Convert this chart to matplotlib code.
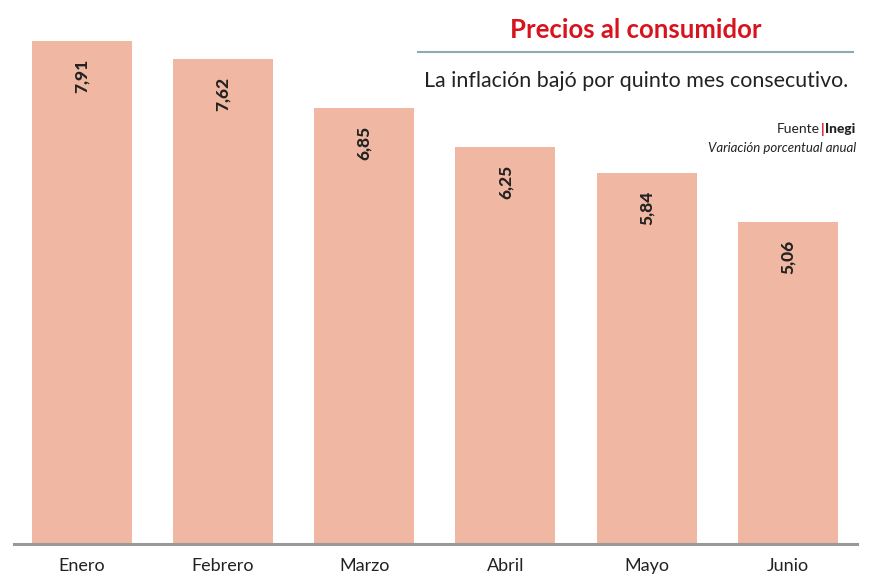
import matplotlib
matplotlib.use("Agg")
import matplotlib.pyplot as plt

months = ["Enero", "Febrero", "Marzo", "Abril", "Mayo", "Junio"]
values = [7.91, 7.62, 6.85, 6.25, 5.84, 5.06]
value_labels = ["7,91", "7,62", "6,85", "6,25", "5,84", "5,06"]

plt.rcParams['font.family'] = ['Lato', 'DejaVu Sans']

W, H = 874, 574
fig = plt.figure(figsize=(W/100, H/100), dpi=100)
ax = fig.add_axes([14/W, 30/H, 843/W, 544/H])
x = list(range(len(months)))
ax.bar(x, values, width=0.708, color="#f0b7a2", zorder=2)
ax.set_xlim(-0.48, 5.49)
ax.set_ylim(0, 544/63.6)
for s in ["top", "right", "left"]:
    ax.spines[s].set_visible(False)
ax.spines["bottom"].set_color("#999999")
ax.spines["bottom"].set_linewidth(2.2)
ax.spines["bottom"].set_zorder(3)
ax.set_yticks([])
ax.set_xticks(x)
ax.set_xticklabels(months, fontsize=13, color="#222222")
ax.tick_params(axis="x", length=0, pad=10)
for xi, v, lab in zip(x, values, value_labels):
    ax.annotate(lab, (xi, v), xytext=(0, -35), textcoords="offset pixels",
                rotation=90, ha="center", va="center", fontsize=12.5,
                fontweight="black", color="#222222")

fig.text(636/W, 1-30/H, "Precios al consumidor", color="#d7141e", fontsize=18.5,
         fontweight="bold", ha="center", va="center")
fig.add_artist(plt.Line2D([418/W, 853/W], [1-52/H, 1-52/H], color="#8fa8b5", lw=1.5))
fig.text(848/W, 1-81/H, "La inflación bajó por quinto mes consecutivo.", color="#222222",
         fontsize=15.4, ha="right", va="center")
fig.text(820/W, 1-129/H, "Fuente", color="#222222", fontsize=10, ha="right", va="center")
fig.text(822.5/W, 1-129/H, "|", color="#d7141e", fontsize=10, fontweight="bold", ha="center", va="center")
fig.text(825/W, 1-129/H, "Inegi", color="#222222", fontsize=10, fontweight="black", ha="left", va="center")
fig.text(856/W, 1-148/H, "Variación porcentual anual", color="#222222", fontsize=9.5,
         style="italic", ha="right", va="center")

fig.savefig("out.png", dpi=100)
